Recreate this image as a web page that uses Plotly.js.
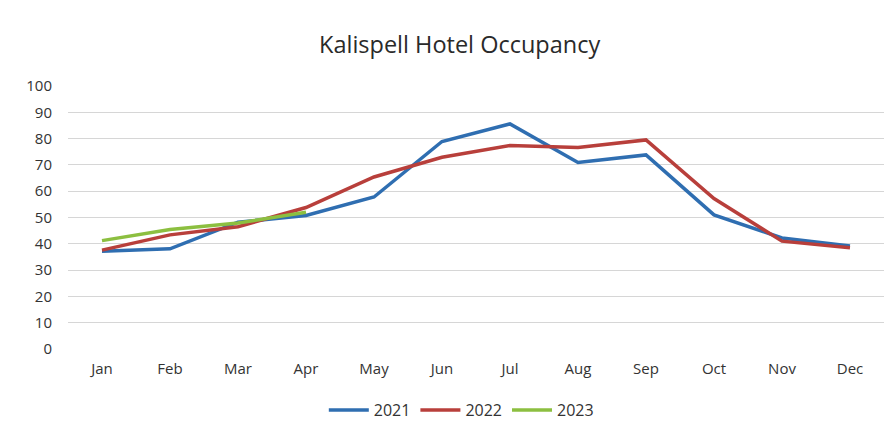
<!DOCTYPE html>
<html>
<head>
<meta charset="utf-8">
<script src="https://cdn.plot.ly/plotly-3.0.1.min.js"></script>
<style>html,body{margin:0;padding:0;background:#fff;}#chart{width:896px;height:430px;}</style>
</head>
<body>
<div id="chart"></div>
<script>
const months = ["Jan","Feb","Mar","Apr","May","Jun","Jul","Aug","Sep","Oct","Nov","Dec"];
const y2021 = [37.2, 38.1, 48.2, 50.8, 57.8, 78.9, 85.6, 70.9, 73.8, 51.0, 42.2, 39.2];
const y2022 = [37.6, 43.4, 46.5, 53.8, 65.4, 72.9, 77.4, 76.6, 79.5, 57.2, 41.0, 38.5];
const y2023 = [41.2, 45.4, 47.9, 52.0];
const yTicks = [0,10,20,30,40,50,60,70,80,90,100];

const font = "Open Sans, Liberation Sans, sans-serif";
const mk = (name, y, color) => ({
  x: months.slice(0, y.length), y: y, name: name, type: "scatter", mode: "lines",
  line: {color: color, width: 3.5}
});
const data = [
  mk("2021", y2021, "#2F6EB1"),
  mk("2022", y2022, "#B83F3B"),
  mk("2023", y2023, "#8CBF40")
];
const layout = {
  width: 896, height: 430,
  margin: {l: 68, r: 12, t: 86, b: 81, autoexpand: false},
  paper_bgcolor: "#fff", plot_bgcolor: "#fff",
  title: {text: "Kalispell Hotel Occupancy", x: 0.513, xanchor: "center", y: 0.895, yanchor: "middle",
          font: {family: font, size: 23.5, color: "#2a2a2a"}},
  font: {family: font, color: "#333"},
  xaxis: {type: "category", categoryorder: "array", categoryarray: months,
          range: [-0.5, 11.5], showgrid: false, zeroline: false, showline: false, automargin: false,
          ticks: "", tickfont: {size: 15, color: "#333"}, ticklabelstandoff: 9, fixedrange: true},
  yaxis: {range: [0, 100], tickvals: yTicks, showgrid: true, gridcolor: "#d6d6d6", gridwidth: 1,
          zeroline: false, showline: false, ticks: "", tickfont: {size: 15, color: "#333"}, automargin: false,
          ticklabelstandoff: 15, fixedrange: true},
  showlegend: true,
  legend: {orientation: "h", x: 0.482, xanchor: "center", y: -0.232, yanchor: "middle",
           font: {size: 16, color: "#333"}, itemwidth: 40, tracegroupgap: 0, traceorder: "normal"}
};
Plotly.newPlot("chart", data, layout, {displayModeBar: false, staticPlot: true});
</script>
</body>
</html>
